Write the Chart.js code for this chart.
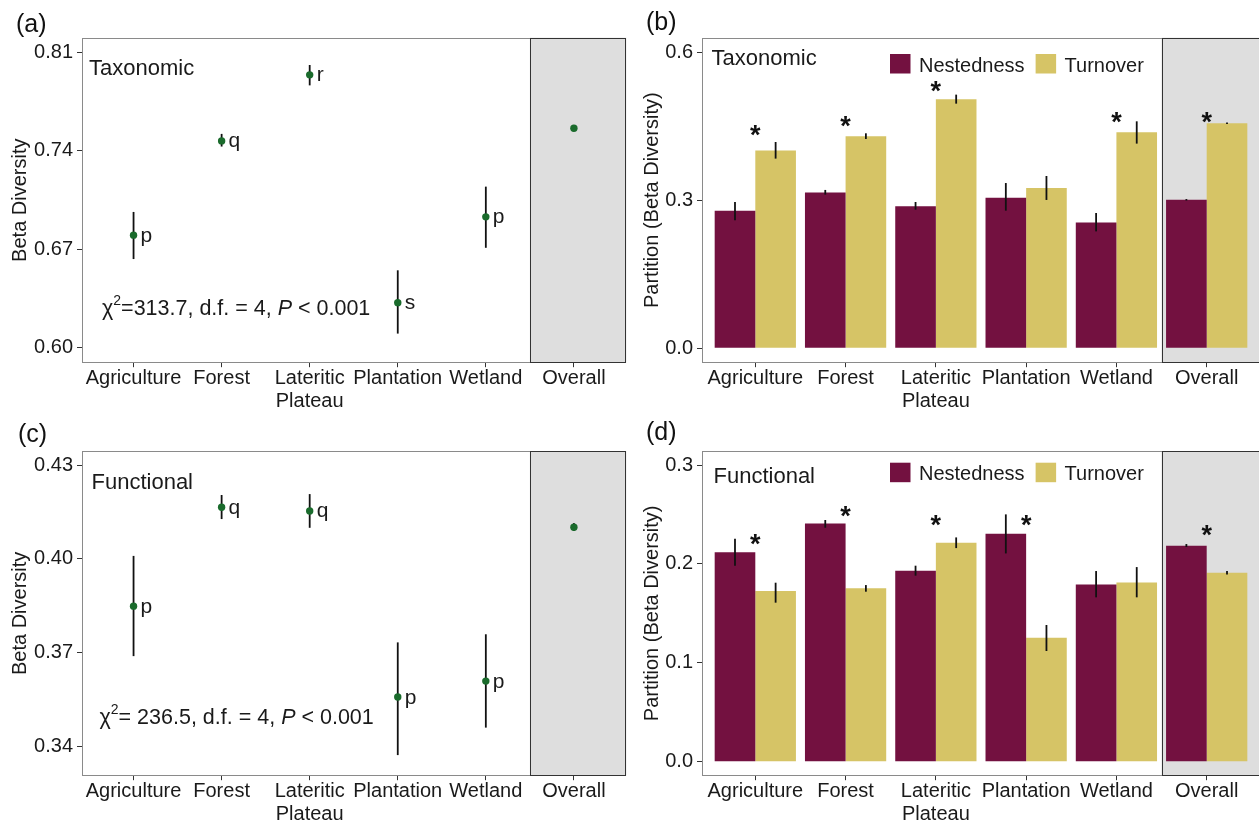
<!DOCTYPE html>
<html>
<head>
<meta charset="utf-8">
<script src="https://cdn.jsdelivr.net/npm/chart.js@4/dist/chart.umd.min.js"></script>
<style>
html,body{margin:0;padding:0;background:#fff;overflow:hidden;width:1259px;height:822px;}
canvas{position:absolute;}
</style>
</head>
<body>
<canvas id="ca" width="630" height="410" style="left:0;top:0"></canvas>
<canvas id="cb" width="632" height="410" style="left:630px;top:0"></canvas>
<canvas id="cc" width="630" height="412" style="left:0;top:410px"></canvas>
<canvas id="cd" width="632" height="412" style="left:630px;top:410px"></canvas>
<script>
// ---------------- DATA ----------------
const categories = ['Agriculture','Forest','Lateritic Plateau','Plantation','Wetland','Overall'];
const tickLabels = [['Agriculture'],['Forest'],['Lateritic','Plateau'],['Plantation'],['Wetland'],['Overall']];

// (a) Taxonomic beta diversity (mean, CI)
const taxMean = [0.680, 0.747, 0.794, 0.632, 0.693, 0.756];
const taxLow  = [0.663, 0.743, 0.7865, 0.610, 0.671, 0.7545];
const taxHigh = [0.6965, 0.752, 0.801, 0.655, 0.7145, 0.7575];
const taxLetters = ['p','q','r','s','p',''];
const taxTicks = [0.60, 0.67, 0.74, 0.81];
const taxChi = '313.7';

// (c) Functional beta diversity
const funMean = [0.3848, 0.4165, 0.4153, 0.3557, 0.3608, 0.4101];
const funLow  = [0.3688, 0.4127, 0.4099, 0.3371, 0.3459, 0.4089];
const funHigh = [0.4009, 0.4204, 0.4207, 0.3732, 0.3758, 0.4114];
const funLetters = ['p','q','q','p','p',''];
const funTicks = [0.34, 0.37, 0.40, 0.43];
const funChi = ' 236.5';

const statsDf = 4;
const statsP = '0.001';

// (b) Taxonomic partition
const taxNest     = [0.279, 0.316, 0.288, 0.305, 0.255, 0.301];
const taxNestLow  = [0.2595, 0.3115, 0.281, 0.279, 0.237, 0.2995];
const taxNestHigh = [0.2966, 0.321, 0.2966, 0.335, 0.2743, 0.3025];
const taxTurn     = [0.401, 0.430, 0.505, 0.325, 0.438, 0.456];
const taxTurnLow  = [0.3845, 0.4243, 0.4959, 0.3007, 0.4149, 0.4545];
const taxTurnHigh = [0.4182, 0.4358, 0.5142, 0.3493, 0.4601, 0.4575];
const taxStarY    = [0.445, 0.464, 0.535, null, 0.472, 0.472];
const taxPartTicks = [0.0, 0.3, 0.6];

// (d) Functional partition
const funNest     = [0.2117, 0.2410, 0.1931, 0.2305, 0.1793, 0.2184];
const funNestLow  = [0.1982, 0.2366, 0.1881, 0.2106, 0.1662, 0.2171];
const funNestHigh = [0.2255, 0.2444, 0.1982, 0.2501, 0.1928, 0.2201];
const funTurn     = [0.1726, 0.1753, 0.2214, 0.1254, 0.1813, 0.1911];
const funTurnLow  = [0.1608, 0.1719, 0.2160, 0.1119, 0.1662, 0.1894];
const funTurnHigh = [0.1810, 0.1786, 0.2268, 0.1382, 0.1968, 0.1928];
const funStarY    = [0.2267, 0.2553, 0.2460, 0.2460, null, 0.2359];
const funPartTicks = [0.0, 0.1, 0.2, 0.3];

const seriesNames = ['Nestedness','Turnover'];

// ---------------- STYLE ----------------
const FONT = "'Liberation Sans', Arial, Helvetica, sans-serif";
const TXT = '#1a1a1a';
const GREEN = '#1a6b2c';
const MAROON = '#731140';
const GOLD = '#d6c466';
const FACET_BG = '#dedede';
const FACET_SPLIT = 4.5;
Chart.defaults.font.family = FONT;
Chart.defaults.color = TXT;

function xScale(min, max, h){
  return {
    type:'linear', min, max, offset:false,
    afterBuildTicks(s){ s.ticks = categories.map((c,i)=>({value:i})); },
    afterFit(s){ s.height = h; },
    ticks:{ callback:(v)=>tickLabels[v], autoSkip:false, maxRotation:0, minRotation:0, padding:0,
            color:TXT, font:{size:20, lineHeight:1.13} },
    grid:{ display:true, drawOnChartArea:false, drawTicks:true, tickLength:4.5, tickColor:'#333', tickWidth:1, offset:false },
    border:{ display:false }
  };
}
function yScale(min, max, ticks, dec, title, titlePad, w){
  return {
    type:'linear', min, max,
    afterBuildTicks(s){ s.ticks = ticks.map(v=>({value:v})); },
    afterFit(s){ s.width = w; },
    ticks:{ callback:(v)=>Number(v).toFixed(dec), padding:4, color:TXT, font:{size:20} },
    grid:{ display:true, drawOnChartArea:false, drawTicks:true, tickLength:4.5, tickColor:'#333', tickWidth:1 },
    border:{ display:false },
    title:{ display:true, text:title, color:TXT, font:{size:20, lineHeight:1.2}, padding:{top:titlePad, bottom:0} }
  };
}

function drawErrors(chart, cfg){
  const ctx = chart.ctx, ys = chart.scales.y;
  ctx.save();
  ctx.strokeStyle = '#111'; ctx.lineWidth = 1.8;
  cfg.errors.forEach(e=>{
    const meta = chart.getDatasetMeta(e.ds);
    e.low.forEach((lo,i)=>{
      const el = meta.data[i]; if(!el) return;
      ctx.beginPath();
      ctx.moveTo(el.x, ys.getPixelForValue(lo));
      ctx.lineTo(el.x, ys.getPixelForValue(e.high[i]));
      ctx.stroke();
    });
  });
  ctx.restore();
}

function drawChi(ctx, x, y, value){
  ctx.textAlign='left'; ctx.textBaseline='alphabetic'; ctx.fillStyle=TXT;
  ctx.font = `21.5px ${FONT}`; ctx.fillText('\u03C7', x, y); x += ctx.measureText('\u03C7').width;
  ctx.font = `14px ${FONT}`; ctx.fillText('2', x, y-10); x += ctx.measureText('2').width;
  ctx.font = `21.5px ${FONT}`; const s1 = '=' + value + ', d.f. = ' + statsDf + ', ';
  ctx.fillText(s1, x, y); x += ctx.measureText(s1).width;
  ctx.font = `italic 21.5px ${FONT}`; ctx.fillText('P', x, y); x += ctx.measureText('P').width;
  ctx.font = `21.5px ${FONT}`; ctx.fillText(' < ' + statsP, x, y);
}

function makeDeco(cfg){
  return {
    id:'deco_'+cfg.id,
    beforeDatasetsDraw(chart){
      const ctx = chart.ctx, a = chart.chartArea, xs = chart.scales.x;
      const sx = xs.getPixelForValue(FACET_SPLIT);
      ctx.save();
      ctx.fillStyle = FACET_BG;
      ctx.fillRect(sx, a.top, a.right - sx, a.bottom - a.top);
      ctx.restore();
      if(cfg.kind === 'point') drawErrors(chart, cfg);
    },
    afterDatasetsDraw(chart){
      const ctx = chart.ctx, a = chart.chartArea, xs = chart.scales.x, ys = chart.scales.y;
      if(cfg.kind === 'bar') drawErrors(chart, cfg);
      ctx.save();
      // letters
      if(cfg.letters){
        const meta = chart.getDatasetMeta(0);
        ctx.font = `21px ${FONT}`; ctx.fillStyle = TXT; ctx.textAlign='left'; ctx.textBaseline='alphabetic';
        cfg.letters.forEach((l,i)=>{ if(l){ const el = meta.data[i]; ctx.fillText(l, el.x + 7, el.y + 6.5); } });
      }
      // stars
      if(cfg.stars){
        ctx.font = `bold 27px ${FONT}`; ctx.fillStyle = '#111'; ctx.textAlign='center'; ctx.textBaseline='alphabetic';
        cfg.stars.forEach((v,i)=>{ if(v!==null){ ctx.fillText('*', xs.getPixelForValue(i), ys.getPixelForValue(v) + 15.5); } });
      }
      // frames
      const sx = Math.round(xs.getPixelForValue(FACET_SPLIT)) + 0.5;
      const L = Math.round(a.left) + 0.5, T = Math.round(a.top) + 0.5, B = Math.round(a.bottom) - 0.5, R = Math.round(a.right) - 0.5;
      ctx.lineWidth = 1;
      ctx.strokeStyle = '#8a8a8a';
      ctx.strokeRect(L, T, sx - L, B - T);
      ctx.strokeStyle = '#333';
      ctx.strokeRect(sx, T, R - sx, B - T);
      // title
      ctx.font = `22px ${FONT}`; ctx.fillStyle = TXT; ctx.textAlign='left'; ctx.textBaseline='alphabetic';
      ctx.fillText(cfg.title, cfg.titleX, cfg.titleY);
      // chi
      if(cfg.chi) drawChi(ctx, cfg.chiX, cfg.chiY, cfg.chi);
      // legend
      if(cfg.legend){
        let x = cfg.legendX;
        chart.data.datasets.forEach(ds=>{
          ctx.fillStyle = ds.backgroundColor;
          ctx.fillRect(x, cfg.legendY, 20.5, 19.5);
          x += 20.5 + 8.5;
          ctx.font = `20px ${FONT}`; ctx.fillStyle = TXT; ctx.textAlign='left';
          ctx.fillText(ds.label, x, cfg.legendY + 17.7);
          x += ctx.measureText(ds.label).width + 11;
        });
      }
      ctx.restore();
    },
    afterDraw(chart){
      const ctx = chart.ctx;
      ctx.save();
      ctx.font = `25px ${FONT}`; ctx.fillStyle = '#111'; ctx.textAlign='left'; ctx.textBaseline='alphabetic';
      ctx.fillText(cfg.tag, cfg.tagX, cfg.tagY);
      ctx.restore();
    }
  };
}

function pointChart(id, mean, low, high, letters, ticks, ymin, ymax, chi, pad, xh, deco){
  return new Chart(document.getElementById(id), {
    type:'scatter',
    data:{ datasets:[{ label:'Beta Diversity', data: mean.map((v,i)=>({x:i, y:v})),
      pointRadius:3.7, pointHoverRadius:3.7, pointBackgroundColor:GREEN, pointBorderWidth:0, borderWidth:0 }] },
    options:{
      responsive:false, animation:false, events:[],
      layout:{ padding:pad },
      plugins:{ legend:{display:false}, tooltip:{enabled:false} },
      scales:{
        x: xScale(-0.591, 5.595, xh),
        y: yScale(ymin, ymax, ticks, 2, 'Beta Diversity', 8, 81.5)
      }
    },
    plugins:[ makeDeco(Object.assign({kind:'point', letters, chi,
      errors:[{ds:0, low, high}]}, deco)) ]
  });
}

function barChart(id, nest, nl, nh, turn, tl, th, stars, ticks, ymin, ymax, pad, xh, deco){
  return new Chart(document.getElementById(id), {
    type:'bar',
    data:{ datasets:[
      { label:seriesNames[0], data: nest.map((v,i)=>({x:i, y:v})), backgroundColor:MAROON, borderWidth:0, categoryPercentage:0.9, barPercentage:1.0 },
      { label:seriesNames[1], data: turn.map((v,i)=>({x:i, y:v})), backgroundColor:GOLD, borderWidth:0, categoryPercentage:0.9, barPercentage:1.0 }
    ]},
    options:{
      responsive:false, animation:false, events:[],
      layout:{ padding:pad },
      plugins:{ legend:{display:false}, tooltip:{enabled:false} },
      scales:{
        x: xScale(-0.596, 5.596, xh),
        y: yScale(ymin, ymax, ticks, 1, 'Partition (Beta Diversity)', 10, 71.5)
      }
    },
    plugins:[ makeDeco(Object.assign({kind:'bar', stars, legend:true,
      errors:[{ds:0, low:nl, high:nh},{ds:1, low:tl, high:th}]}, deco)) ]
  });
}

pointChart('ca', taxMean, taxLow, taxHigh, taxLetters, taxTicks, 0.5893, 0.8204, taxChi,
  {top:37.7, left:0, right:2, bottom:0}, 47.3,
  {id:'a', tag:'(a)', tagX:16, tagY:31.5, title:'Taxonomic', titleX:89, titleY:75, chiX:102, chiY:315});

pointChart('cc', funMean, funLow, funHigh, funLetters, funTicks, 0.3305, 0.4345, funChi,
  {top:41, left:0, right:2, bottom:0}, 46.3,
  {id:'c', tag:'(c)', tagX:18, tagY:31.5, title:'Functional', titleX:91.5, titleY:79.3, chiX:99.5, chiY:314});

barChart('cb', taxNest, taxNestLow, taxNestHigh, taxTurn, taxTurnLow, taxTurnHigh, taxStarY, taxPartTicks, -0.0292, 0.6296,
  {top:37.7, left:0, right:1.5, bottom:0}, 47.3,
  {id:'b', tag:'(b)', tagX:16, tagY:30, title:'Taxonomic', titleX:81.5, titleY:65, legendX:260, legendY:54});

barChart('cd', funNest, funNestLow, funNestHigh, funTurn, funTurnLow, funTurnHigh, funStarY, funPartTicks, -0.0142, 0.3142,
  {top:41, left:0, right:1.5, bottom:0}, 46.3,
  {id:'d', tag:'(d)', tagX:16, tagY:30, title:'Functional', titleX:83.5, titleY:72.7, legendX:260, legendY:52.7});
</script>
</body>
</html>
